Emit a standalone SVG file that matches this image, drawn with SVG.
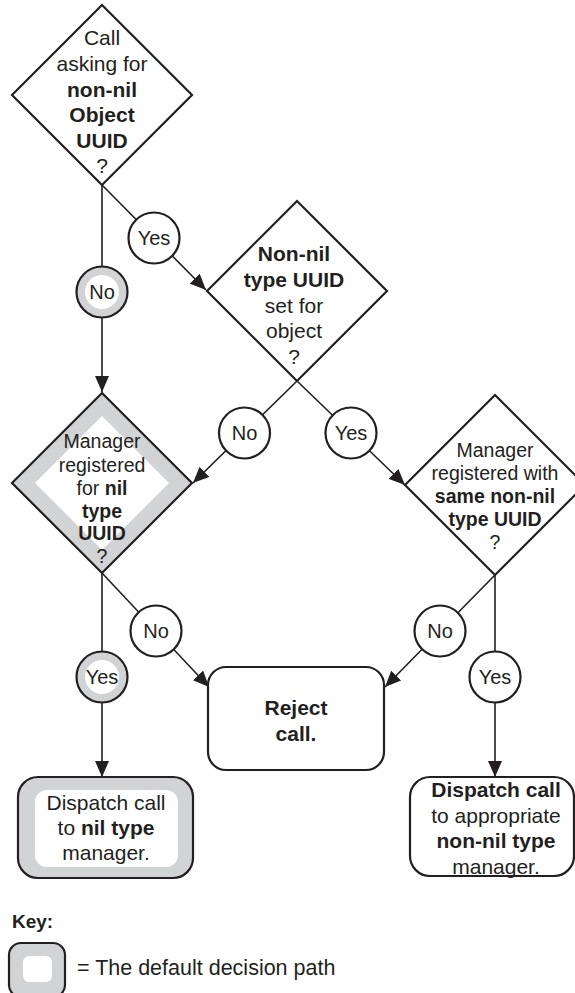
<svg xmlns="http://www.w3.org/2000/svg" width="575" height="993" viewBox="0 0 575 993">
<style>
text{font-family:"Liberation Sans",Arial,Helvetica,sans-serif;fill:#231f20;text-anchor:middle}
.b{font-weight:bold}
.d1{font-size:21px}
.d3{font-size:19.5px}
.lbl{font-size:20px}
.shape{stroke:#231f20;stroke-width:2.2;fill:#fff}
.gray{fill:#d1d3d4}
.wh{fill:#fff;stroke:none}
.conn line{stroke:#231f20;stroke-width:1.6;fill:none}
</style>
<defs>
<marker id="arr" viewBox="0 0 16 14" refX="16" refY="7" markerWidth="16" markerHeight="14" markerUnits="userSpaceOnUse" orient="auto">
<path d="M0,0 L16,7 L0,14 z" fill="#231f20"/>
</marker>
</defs>
<g id="connectors" class="conn">
<line x1="102" y1="185" x2="102" y2="392" marker-end="url(#arr)"/>
<line x1="102" y1="185" x2="206" y2="290" marker-end="url(#arr)"/>
<line x1="297" y1="381" x2="193" y2="483" marker-end="url(#arr)"/>
<line x1="297" y1="381" x2="405" y2="485" marker-end="url(#arr)"/>
<line x1="102" y1="573" x2="102" y2="777" marker-end="url(#arr)"/>
<line x1="102" y1="573" x2="209" y2="687" marker-end="url(#arr)"/>
<line x1="495" y1="575" x2="495" y2="777" marker-end="url(#arr)"/>
<line x1="495" y1="575" x2="385" y2="687" marker-end="url(#arr)"/>
</g>
<g id="d1">
<polygon class="shape" points="102,5 192,95 102,185 12,95"/>
<text class="d1" x="102" y="45">Call</text>
<text class="d1" x="102" y="71">asking for</text>
<text class="d1 b" x="102" y="97">non-nil</text>
<text class="d1 b" x="102" y="122">Object</text>
<text class="d1 b" x="102" y="148">UUID</text>
<text class="d1" x="102" y="173">?</text>
</g>
<g id="d2">
<polygon class="shape" points="297,201 387,291 297,381 207,291"/>
<text class="d1 b" x="294" y="261">Non-nil</text>
<text class="d1 b" x="294" y="287">type UUID</text>
<text class="d1" x="294" y="312.5">set for</text>
<text class="d1" x="294" y="338">object</text>
<text class="d1" x="294" y="363.5">?</text>
</g>
<g id="d3">
<polygon class="shape gray" points="102,393 192,483 102,573 12,483"/>
<polygon class="wh" points="102,416 169,483 102,550 35,483"/>
<text class="d3" x="102" y="448">Manager</text>
<text class="d3" x="102" y="471.5">registered</text>
<text class="d3" x="102" y="495">for <tspan class="b">nil</tspan></text>
<text class="d3 b" x="102" y="517.5">type</text>
<text class="d3 b" x="102" y="540">UUID</text>
<text class="d3" x="102" y="563">?</text>
</g>
<g id="d4">
<polygon class="shape" points="495,395 585,485 495,575 405,485"/>
<text class="d3" x="495" y="457">Manager</text>
<text class="d3" x="495" y="480">registered with</text>
<text class="d3 b" x="495" y="503">same non-nil</text>
<text class="d3 b" x="495" y="526">type UUID</text>
<text class="d3" x="495" y="549">?</text>
</g>
<g id="c-no1">
<circle class="shape gray" cx="102" cy="292" r="25.5"/>
<circle class="wh" cx="102" cy="292" r="17"/>
<text class="lbl" x="102" y="299">No</text>
</g>
<g id="c-yes1">
<circle class="shape" cx="154" cy="238" r="25.5"/>
<text class="lbl" x="154" y="245">Yes</text>
</g>
<g id="c-no2">
<circle class="shape" cx="244.5" cy="433" r="25.5"/>
<text class="lbl" x="244.5" y="440">No</text>
</g>
<g id="c-yes2">
<circle class="shape" cx="351" cy="433" r="25.5"/>
<text class="lbl" x="351" y="440">Yes</text>
</g>
<g id="c-yes3">
<circle class="shape gray" cx="102" cy="677" r="25.5"/>
<circle class="wh" cx="102" cy="677" r="17"/>
<text class="lbl" x="102" y="684">Yes</text>
</g>
<g id="c-no3">
<circle class="shape" cx="156" cy="631" r="25.5"/>
<text class="lbl" x="156" y="638">No</text>
</g>
<g id="c-no4">
<circle class="shape" cx="440" cy="631" r="25.5"/>
<text class="lbl" x="440" y="638">No</text>
</g>
<g id="c-yes4">
<circle class="shape" cx="495" cy="677" r="25.5"/>
<text class="lbl" x="495" y="684">Yes</text>
</g>
<g id="reject">
<rect class="shape" x="208" y="667" width="176" height="103" rx="18"/>
<text class="d1 b" x="296" y="715">Reject</text>
<text class="d1 b" x="296" y="741">call.</text>
</g>
<g id="dispatch-nil">
<rect class="shape gray" x="18" y="777" width="175" height="101" rx="20"/>
<rect class="wh" x="35" y="790" width="143" height="77" rx="12"/>
<text class="d1" x="106" y="810">Dispatch call</text>
<text class="d1" x="106" y="835">to <tspan class="b">nil type</tspan></text>
<text class="d1" x="106" y="860">manager.</text>
</g>
<g id="dispatch-nonnil">
<rect class="shape" x="410" y="777" width="164" height="99" rx="20"/>
<text class="d1 b" x="496" y="797">Dispatch call</text>
<text class="d1" x="496" y="822.5">to appropriate</text>
<text class="d1 b" x="496" y="848">non-nil type</text>
<text class="d1" x="496" y="873.5">manager.</text>
</g>
<g id="key">
<text class="b" x="12" y="928" style="font-size:19px;text-anchor:start">Key:</text>
<rect class="shape gray" x="9" y="943" width="56" height="54" rx="12"/>
<rect class="wh" x="23" y="956" width="29" height="26" rx="6"/>
<text x="77" y="975" style="font-size:21.5px;text-anchor:start">= The default decision path</text>
</g>
</svg>
